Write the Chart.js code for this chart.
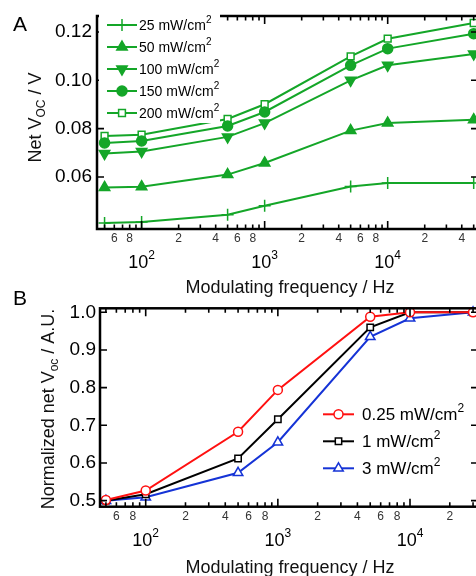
<!DOCTYPE html>
<html>
<head>
<meta charset="utf-8">
<script src="https://cdn.jsdelivr.net/npm/chart.js@4.4.1/dist/chart.umd.min.js"></script>
<style>
  html, body { margin: 0; padding: 0; background: #fff; overflow: hidden; }
  #wrap { position: relative; width: 476px; height: 576px; overflow: hidden; }
  canvas { position: absolute; left: 0; }
  #chartA { top: 0; }
  #chartB { top: 280px; }
</style>
</head>
<body>
<div id="wrap">
  <canvas id="chartA" width="500" height="300"></canvas>
  <canvas id="chartB" width="500" height="296"></canvas>
</div>
<script>
// --- DATA: panel A ---
const freqA = [50, 100, 500, 1000, 5000, 10000, 50000];
const voc25 = [0.0410, 0.0414, 0.0444, 0.0481, 0.0561, 0.0575, 0.0575];
const voc50 = [0.0557, 0.0560, 0.0610, 0.0658, 0.0792, 0.0823, 0.0837];
const voc100 = [0.0697, 0.0706, 0.0766, 0.0823, 0.1000, 0.1062, 0.1109];
const voc150 = [0.0741, 0.0749, 0.0811, 0.0869, 0.1062, 0.1131, 0.1193];
const voc200 = [0.0770, 0.0775, 0.0840, 0.0901, 0.1099, 0.1172, 0.1237];
const legendA = ['25 mW/cm', '50 mW/cm', '100 mW/cm', '150 mW/cm', '200 mW/cm'];
const yTicksA = [0.06, 0.08, 0.10, 0.12];

// --- DATA: panel B ---
const freqB = [50, 100, 500, 1000, 5000, 10000, 30000];
const norm025 = [0.502, 0.527, 0.683, 0.794, 0.988, 1.000, 1.000];
const norm1 = [0.500, 0.517, 0.612, 0.716, 0.960, 1.000, 1.000];
const norm3 = [0.500, 0.509, 0.574, 0.655, 0.935, 0.984, 1.000];
const legendB = ['0.25 mW/cm', '1 mW/cm', '3 mW/cm'];
const yTicksB = [0.5, 0.6, 0.7, 0.8, 0.9, 1.0];

// x-axis labelling
const minorLabelDigits = [2, 4, 6, 8];
const decades = [1, 2, 3, 4];

const GREEN = '#14a628';
const FAMILY = '"Liberation Sans", Arial, sans-serif';

function font(size) {
    return size + 'px ' + FAMILY;
}

function pts(xs, ys) {
    return xs.map((x, i) => ({ x: x, y: ys[i] }));
}

// draw a run of text pieces [text, size, dy] centred on cx,cy
function richText(ctx, parts, cx, cy, color) {
    let total = 0;
    parts.forEach(p => { ctx.font = font(p[1]); total += ctx.measureText(p[0]).width; });
    const base = cy + parts[0][1] * 0.36;
    let x = cx - total / 2;
    ctx.fillStyle = color || '#000';
    ctx.textAlign = 'left';
    ctx.textBaseline = 'alphabetic';
    parts.forEach(p => {
        ctx.font = font(p[1]);
        ctx.fillText(p[0], x, base + p[2]);
        x += ctx.measureText(p[0]).width;
    });
}

function leftText(ctx, parts, x, cy) {
    const base = cy + parts[0][1] * 0.36;
    ctx.fillStyle = '#000';
    ctx.textAlign = 'left';
    ctx.textBaseline = 'alphabetic';
    parts.forEach(p => {
        ctx.font = font(p[1]);
        ctx.fillText(p[0], x, base + p[2]);
        x += ctx.measureText(p[0]).width;
    });
}

// frame, inward ticks, tick labels, titles, legend
function axesPlugin(cfg) {
    return {
        id: 'axesDraw',
        afterDatasetsDraw(chart) {
            const ctx = chart.ctx;
            const a = chart.chartArea;
            const xs = chart.scales.x;
            const ys = chart.scales.y;
            ctx.save();

            // frame
            ctx.strokeStyle = '#000';
            ctx.lineWidth = 2.5;
            ctx.strokeRect(a.left, a.top, a.right - a.left, a.bottom - a.top);

            // x ticks
            ctx.lineWidth = 1.6;
            decades.forEach(d => {
                for (let m = 1; m <= 9; m++) {
                    const v = m * Math.pow(10, d);
                    if (v < xs.min || v > xs.max) continue;
                    const px = xs.getPixelForValue(v);
                    const len = m === 1 ? 8 : 4.5;
                    ctx.beginPath();
                    ctx.moveTo(px, a.bottom); ctx.lineTo(px, a.bottom - len);
                    ctx.moveTo(px, a.top); ctx.lineTo(px, a.top + len);
                    ctx.stroke();
                    if (m === 1) {
                        richText(ctx, [['10', 18, 0], [String(d), 12, -9]], px, a.bottom + 33);
                    } else if (minorLabelDigits.includes(m)) {
                        ctx.font = font(12);
                        ctx.fillStyle = '#333';
                        ctx.textAlign = 'center';
                        ctx.textBaseline = 'middle';
                        ctx.fillText(String(m), px, a.bottom + 10);
                    }
                }
            });

            // y ticks
            cfg.yTicks.forEach(v => {
                const py = ys.getPixelForValue(v);
                ctx.beginPath();
                ctx.moveTo(a.left, py); ctx.lineTo(a.left + 7, py);
                ctx.moveTo(a.right, py); ctx.lineTo(a.right - 7, py);
                ctx.stroke();
                ctx.font = font(19);
                ctx.fillStyle = '#000';
                ctx.textAlign = 'right';
                ctx.textBaseline = 'middle';
                ctx.fillText(v.toFixed(cfg.yDigits), a.left - cfg.yGap, py);
            });

            // titles
            richText(ctx, [['Modulating frequency / Hz', 18, 0]], 290, cfg.xTitleY, '#111');
            ctx.save();
            ctx.translate(cfg.yTitle[0], cfg.yTitle[1]);
            ctx.rotate(-Math.PI / 2);
            richText(ctx, cfg.yTitleParts, 0, 0, '#111');
            ctx.restore();

            // panel letter
            ctx.font = font(21);
            ctx.fillStyle = '#000';
            ctx.textAlign = 'center';
            ctx.textBaseline = 'middle';
            ctx.fillText(cfg.letter[0], cfg.letter[1], cfg.letter[2]);

            // legend
            const L = cfg.legend;
            if (L.box) {
                ctx.fillStyle = '#fff';
                ctx.fillRect(L.box[0], L.box[1], L.box[2], L.box[3]);
            }
            chart.data.datasets.forEach((ds, i) => {
                const y = L.y0 + i * L.dy;
                ctx.strokeStyle = ds.borderColor;
                ctx.lineWidth = ds.borderWidth;
                ctx.beginPath();
                ctx.moveTo(L.x0, y); ctx.lineTo(L.x1, y);
                ctx.stroke();
                ctx.fillStyle = ds.pointBackgroundColor;
                ctx.strokeStyle = ds.borderColor;
                ctx.lineWidth = ds.pointBorderWidth;
                Chart.helpers.drawPoint(ctx, {
                    pointStyle: ds.pointStyle,
                    rotation: ds.pointRotation || 0,
                    radius: ds.pointRadius,
                    borderWidth: ds.pointBorderWidth
                }, (L.x0 + L.x1) / 2, y);
                leftText(ctx, [[ds.label, L.size, 0], ['2', L.sup, -L.size * 0.5]], L.tx, y);
            });

            ctx.restore();
        }
    };
}

function series(label, xs, ys, color, style, radius, fill, rot) {
    return {
        label: label,
        data: pts(xs, ys),
        borderColor: color,
        backgroundColor: color,
        borderWidth: 2,
        pointStyle: style,
        pointRadius: radius,
        pointRotation: rot || 0,
        pointBackgroundColor: fill,
        pointBorderColor: color,
        pointBorderWidth: 1.5,
        clip: false,
        tension: 0
    };
}

function makeChart(id, datasets, pad, xRange, yRange, cfg) {
    return new Chart(document.getElementById(id), {
        type: 'line',
        data: { datasets: datasets },
        options: {
            responsive: false,
            animation: false,
            devicePixelRatio: 1,
            layout: { padding: pad },
            plugins: { legend: { display: false }, tooltip: { enabled: false } },
            scales: {
                x: { type: 'logarithmic', min: xRange[0], max: xRange[1], display: false },
                y: { type: 'linear', min: yRange[0], max: yRange[1], display: false }
            }
        },
        plugins: [axesPlugin(cfg)]
    });
}

makeChart('chartA', [
    series(legendA[0], freqA, voc25, GREEN, 'cross', 6, GREEN),
    series(legendA[1], freqA, voc50, GREEN, 'triangle', 6, GREEN),
    series(legendA[2], freqA, voc100, GREEN, 'triangle', 6, GREEN, 180),
    series(legendA[3], freqA, voc150, GREEN, 'circle', 5, GREEN),
    series(legendA[4], freqA, voc200, GREEN, 'rect', 4.8, '#fff')
], { left: 97, top: 16, right: 22, bottom: 71 }, [43.4, 54200], [0.0385, 0.1266], {
    yTicks: yTicksA, yDigits: 2, yGap: 5,
    xTitleY: 287,
    yTitle: [35, 117.5],
    yTitleParts: [['Net V', 18, 0], ['OC', 12, 4], [' / V', 18, 0]],
    letter: ['A', 20, 25.5],
    legend: { box: [99, 9, 121, 114], x0: 107, x1: 137, y0: 25, dy: 22, tx: 139, size: 14, sup: 10 }
});

makeChart('chartB', [
    series(legendB[0], freqB, norm025, '#ff1010', 'circle', 4.5, '#fff'),
    series(legendB[1], freqB, norm1, '#000000', 'rect', 4.5, '#fff'),
    series(legendB[2], freqB, norm3, '#1533d6', 'triangle', 5.5, '#fff')
], { left: 100, top: 28.3, right: 22, bottom: 69.3 }, [45.1, 32700], [0.484, 1.0106], {
    yTicks: yTicksB, yDigits: 1, yGap: 4,
    xTitleY: 286.7,
    yTitle: [48, 129],
    yTitleParts: [['Normalized net V', 18, 0], ['oc', 12, 4], [' / A.U.', 18, 0]],
    letter: ['B', 20, 19.5],
    legend: { box: null, x0: 323, x1: 354, y0: 134.3, dy: 27, tx: 362, size: 17, sup: 12 }
});
</script>
</body>
</html>
